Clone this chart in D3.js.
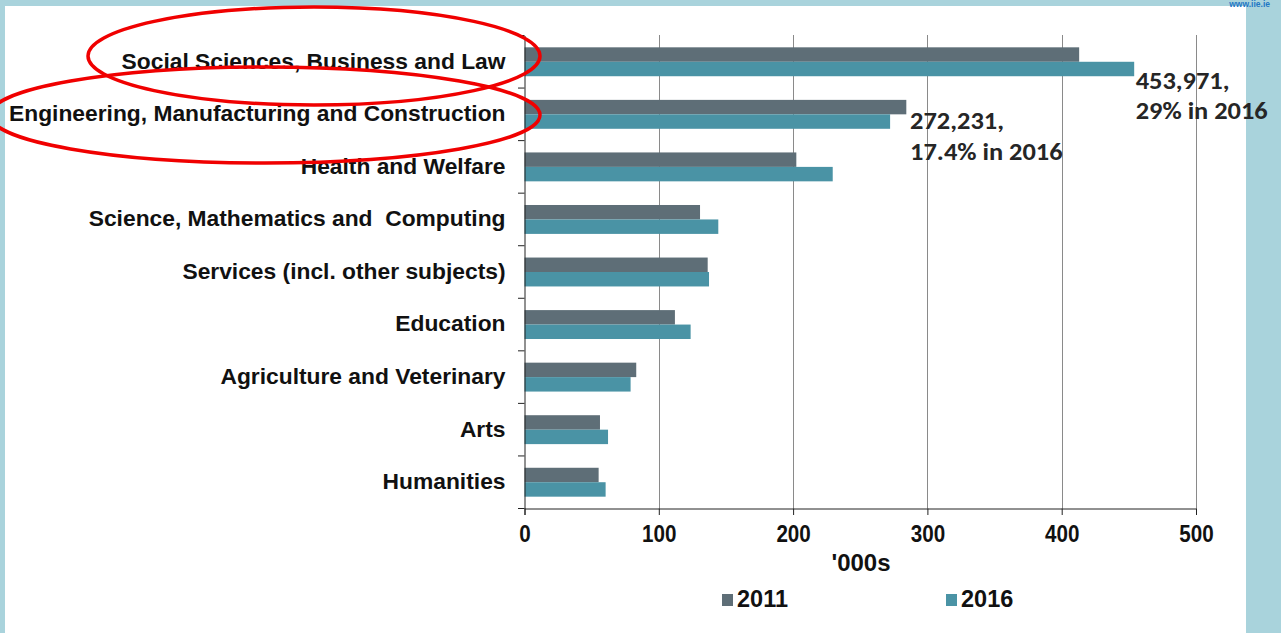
<!DOCTYPE html>
<html>
<head>
<meta charset="utf-8">
<script src="https://cdn.jsdelivr.net/npm/d3@7"></script>
<style>
  html, body { margin: 0; padding: 0; background: #a9d3dc; }
  svg { display: block; }
</style>
</head>
<body>
<svg id="chart" width="1281" height="633"></svg>
<script>
// enrolments by field of study, '000s
var categories = ["Social Sciences, Business and Law",
                  "Engineering, Manufacturing and Construction",
                  "Health and Welfare",
                  "Science, Mathematics and  Computing",
                  "Services (incl. other subjects)",
                  "Education",
                  "Agriculture and Veterinary",
                  "Arts",
                  "Humanities"];
var years = ["2011", "2016"];
var values2011 = [413, 284.3, 202.4, 130.7, 136.4, 112, 83.2, 56.2, 55.2];
var values2016 = [453.971, 272.231, 229.5, 144.3, 137.4, 123.7, 79, 62.2, 60.4];
var xTicks = [0, 100, 200, 300, 400, 500];
var notes = [
    {cat: 0, lines: ["453,971,", "29% in 2016"]},
    {cat: 1, lines: ["272,231,", "17.4% in 2016"]}
];

var colors = {"2011": "#5e6e77", "2016": "#4a93a5"};
var FONT = "Liberation Sans, Arial, sans-serif";

var svg = d3.select("#chart");

// white panel
svg.append("rect")
    .attr("x", 5).attr("y", 6)
    .attr("width", 1241).attr("height", 627)
    .attr("fill", "#ffffff");

svg.append("text")
    .attr("x", 1270).attr("y", 7)
    .attr("text-anchor", "end")
    .attr("font-family", FONT)
    .attr("font-weight", "bold")
    .attr("font-size", 8.5)
    .attr("fill", "#1f77c4")
    .text("www.iie.ie");

var x = d3.scaleLinear().domain([0, 500]).range([524.5, 1196]);
var y = d3.scaleBand().domain(categories).range([35.5, 508.5])
    .paddingInner(0.45).paddingOuter(0.225);
var ySub = d3.scaleBand().domain(years).range([0, y.bandwidth()]);

// gridlines
svg.append("g").selectAll("line")
    .data(xTicks.slice(1))
    .enter()
    .append("line")
    .attr("x1", function(d) { return Math.round(x(d)) + 0.5; })
    .attr("x2", function(d) { return Math.round(x(d)) + 0.5; })
    .attr("y1", 35)
    .attr("y2", 508.5)
    .attr("stroke", "#8a8a8a")
    .attr("stroke-width", 1);

// bars
var rows = categories.map(function(c, i) {
    return {cat: c, vals: [{year: "2011", v: values2011[i]}, {year: "2016", v: values2016[i]}]};
});

var groups = svg.append("g").selectAll("g")
    .data(rows)
    .enter()
    .append("g")
    .attr("transform", function(d) { return "translate(0," + y(d.cat) + ")"; });

groups.selectAll("rect")
    .data(function(d) { return d.vals; })
    .enter()
    .append("rect")
    .attr("x", x(0))
    .attr("y", function(d) { return ySub(d.year); })
    .attr("width", function(d) { return x(d.v) - x(0); })
    .attr("height", ySub.bandwidth())
    .attr("fill", function(d) { return colors[d.year]; });

// axes
var xAxis = svg.append("g")
    .attr("transform", "translate(0,508.5)")
    .call(d3.axisBottom(x).tickValues(xTicks).tickSize(6.5).tickPadding(10).tickFormat(d3.format("d")));
xAxis.select(".domain").attr("stroke", "#222");
xAxis.selectAll(".tick line").attr("stroke", "#222");
xAxis.selectAll("text")
    .attr("font-family", FONT)
    .attr("font-weight", "bold")
    .attr("font-size", 24)
    .attr("fill", "#111")
    .attr("transform", "scale(0.86,1)");

var yAxis = svg.append("g")
    .attr("transform", "translate(524.5,0)")
    .call(d3.axisLeft(y).tickSize(0).tickPadding(19));
yAxis.select(".domain").attr("stroke", "#222");
yAxis.selectAll("text")
    .attr("font-family", FONT)
    .attr("font-weight", "bold")
    .attr("font-size", 22.8)
    .attr("fill", "#111")
    .attr("dy", "0.3em")
    .style("white-space", "pre"); // keep the double space in the label

// category separator ticks
var sepTicks = d3.range(categories.length + 1).map(function(i) {
    return y.range()[0] + i * y.step();
});
svg.append("g").selectAll("line")
    .data(sepTicks)
    .enter()
    .append("line")
    .attr("x1", 518).attr("x2", 524.5)
    .attr("y1", function(d) { return d; })
    .attr("y2", function(d) { return d; })
    .attr("stroke", "#222");

// axis title
svg.append("text")
    .attr("x", 861).attr("y", 571)
    .attr("text-anchor", "middle")
    .attr("font-family", FONT)
    .attr("font-weight", "bold")
    .attr("font-size", 24)
    .attr("fill", "#111")
    .text("'000s");

// legend
var legend = svg.append("g").selectAll("g")
    .data(years)
    .enter()
    .append("g")
    .attr("transform", function(d, i) { return "translate(" + (722 + i * 224) + ",590)"; });
legend.append("rect")
    .attr("width", 11).attr("height", 12)
    .attr("y", 4)
    .attr("fill", function(d) { return colors[d]; });
legend.append("text")
    .attr("x", 15).attr("y", 17)
    .attr("font-family", FONT)
    .attr("font-weight", "bold")
    .attr("font-size", 23.5)
    .attr("fill", "#111")
    .text(function(d) { return d; });

// annotations next to the 2016 bars
var noteOffsets = [{dx: 1.5, dy: 13, lh: 30}, {dx: 20, dy: 0.5, lh: 30.7}];
notes.forEach(function(n, k) {
    var o = noteOffsets[k];
    var bx = x(values2016[n.cat]) + o.dx;
    var by = y(categories[n.cat]) + ySub("2016") + ySub.bandwidth() + o.dy;
    var t = svg.append("text")
        .attr("transform", "translate(" + bx + "," + by + ") scale(1.1,1)")
        .attr("font-family", "Carlito, Lato, sans-serif")
        .attr("font-weight", "bold")
        .attr("font-size", 24)
        .attr("fill", "#262626");
    n.lines.forEach(function(line, j) {
        t.append("tspan")
            .attr("x", 0)
            .attr("y", j * o.lh)
            .text(line);
    });
});

// red highlight ellipses
var rings = [{cx: 314, cy: 56, rx: 226, ry: 49}, {cx: 265, cy: 115, rx: 275, ry: 48}];
svg.append("g").selectAll("ellipse")
    .data(rings)
    .enter()
    .append("ellipse")
    .attr("cx", function(d) { return d.cx; })
    .attr("cy", function(d) { return d.cy; })
    .attr("rx", function(d) { return d.rx; })
    .attr("ry", function(d) { return d.ry; })
    .attr("fill", "none")
    .attr("stroke", "#f00000")
    .attr("stroke-width", 3.5);
</script>
</body>
</html>
